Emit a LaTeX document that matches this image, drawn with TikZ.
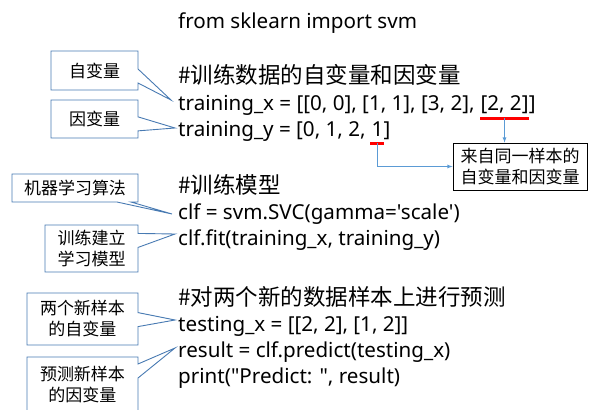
\documentclass[tikz,border=0pt]{standalone}
\usepackage{fontspec}
\newfontfamily\codefont{Noto Sans}
\newfontfamily\cjk{Noto Sans CJK SC}
\usetikzlibrary{shapes.callouts}
\usetikzlibrary{positioning}
\usetikzlibrary{arrows}
\definecolor{calloutblue}{RGB}{72,122,178}
\definecolor{arrowblue}{RGB}{91,155,213}
\definecolor{markred}{RGB}{255,0,0}

\begin{document}
\begin{tikzpicture}[x=1pt,y=-1pt,
  code/.style={anchor=base west, inner sep=0pt, font=\codefont\fontsize{20.6}{24}\selectfont},
  remark/.style={anchor=base west, inner sep=0pt, font=\cjk\fontsize{22.5}{24}\selectfont},
  tag/.style={rectangle callout, draw=calloutblue, line width=0.9pt,
    callout pointer width=14pt, align=center, inner sep=0pt,
    font=\cjk\fontsize{17}{21}\selectfont},
  redline/.style={markred, line width=3pt},
  bluearrow/.style={arrowblue, line width=0.8pt, -latex}
]

\useasboundingbox (0,0) rectangle (590,410);

%---------------------------------------
% Code lines
%---------------------------------------
\node[code] (imp) at (178,28) {from sklearn import svm};

\node[remark] (rem1) at (178,83) {\#训练数据的自变量和因变量};
\node[code] (tx) at (178,110) {training\_x = [[0, 0], [1, 1], [3, 2],};
\node[code, xshift=5.5pt] (txlast) at (tx.base east) {[2, 2]};
\node[code] (txend) at (txlast.base east) {]};
\node[code] (ty) at (178,136) {training\_y = [0, 1, 2,};
\node[code, xshift=5.5pt] (tylast) at (ty.base east) {1};
\node[code] (tyend) at (tylast.base east) {]};

\node[remark] (rem2) at (178,193) {\#训练模型};
\node[code] (clf) at (178,219) {clf = svm.SVC(gamma='scale')};
\node[code] (fit) at (178,245) {clf.fit(training\_x, training\_y)};

\node[remark] (rem3) at (178,305) {\#对两个新的数据样本上进行预测};
\node[code] (testx) at (178,331) {testing\_x = [[2, 2], [1, 2]]};
\node[code] (res) at (178,357) {result = clf.predict(testing\_x)};
\node[code] (prt) at (178,383) {print("Predict: ", result)};

%---------------------------------------
% Same sample: underlines and note
%---------------------------------------
\coordinate (ux) at ([yshift=-8pt]txlast.base);
\coordinate (uy) at ([yshift=-7pt]tylast.base);
\draw[redline] ([yshift=-8pt]txlast.base west) -- ([yshift=-8pt]txlast.base east);
\draw[redline] ([yshift=-7pt,xshift=-1pt]tylast.base west) -- ([yshift=-7pt,xshift=1pt]tylast.base east);

\node[draw, line width=0.8pt, minimum width=134pt, minimum height=47pt,
  inner sep=0pt, align=center, font=\cjk\fontsize{17}{21}\selectfont]
  (note) at (520,166.5) {来自同一样本的\\自变量和因变量};

\draw[bluearrow] (ux) -- (note.north -| ux);
\draw[bluearrow] (uy) |- (note.west);

%---------------------------------------
% Callouts
%---------------------------------------
\node[tag, minimum width=87pt, minimum height=39pt,
  callout absolute pointer={([xshift=-7pt,yshift=10pt]tx.base west)}]
  (tagx) at (94.5,70.5) {自变量};
\node[tag, minimum width=87pt, minimum height=38pt,
  callout absolute pointer={([xshift=-3pt,yshift=8pt]ty.base west)}]
  (tagy) at (94.5,119) {因变量};
\node[tag, minimum width=126pt, minimum height=28pt,
  callout absolute pointer={([xshift=-6pt,yshift=5pt]clf.base west)}]
  (tagalg) at (75,188) {机器学习算法};
\node[tag, minimum width=93pt, minimum height=47pt,
  callout absolute pointer={([xshift=-3pt,yshift=11pt]fit.base west)}]
  (tagfit) at (91.5,248.5) {训练建立\\学习模型};
\node[tag, minimum width=111pt, minimum height=52pt,
  callout absolute pointer={([xshift=-3pt,yshift=11pt]testx.base west)}]
  (tagnew) at (82.5,319) {两个新样本\\的自变量};
\node[tag, minimum width=111pt, minimum height=56pt,
  callout absolute pointer={([xshift=-3pt,yshift=9pt]res.base west)}]
  (tagpred) at (82.5,385) {预测新样本\\的因变量};

\end{tikzpicture}
\end{document}
